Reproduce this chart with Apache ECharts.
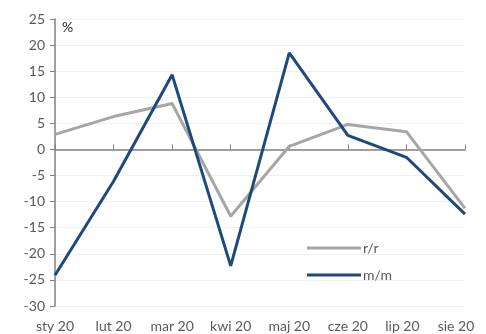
<!DOCTYPE html>
<html><head><meta charset="utf-8">
<script src="https://cdn.jsdelivr.net/npm/echarts@6/dist/echarts.min.js"></script>
<style>html,body{margin:0;padding:0;background:#fff}#c{width:486px;height:334px}</style>
</head><body><div id="c"></div>
<script>
var categories = ['sty 20','lut 20','mar 20','kwi 20','maj 20','cze 20','lip 20','sie 20'];
var rr = [2.9, 6.3, 8.8, -12.8, 0.6, 4.8, 3.4, -11.3];
var mm = [-24.1, -6.1, 14.3, -22.3, 18.5, 2.7, -1.5, -12.4];
var yTicks = {min: -30, max: 25, interval: 5};
var unitLabel = '%';
var seriesNames = ['r/r', 'm/m'];

var font = 'Lato, "Open Sans", sans-serif';
var labelColor = '#595959';
var n = categories.length;
var labelData = categories.map(function (c, i) {
  var pad = i === n - 1 ? [0, 18, 0, 0] : (i === n - 2 ? [0, 8, 0, 0] : 0);
  return {value: c, textStyle: {padding: pad}};
});
var chart = echarts.init(document.getElementById('c'));
chart.setOption({
  animation: false,
  grid: {left: 55, right: 21, top: 19, bottom: 28, containLabel: false},
  legend: {
    orient: 'vertical', left: 302, top: 236, itemWidth: 54, itemHeight: 3, itemGap: 13,
    icon: 'rect',
    textStyle: {color: labelColor, fontSize: 14, fontFamily: font, padding: [0,0,0,-3]},
    data: seriesNames
  },
  graphic: [{type: 'text', left: 62, top: 20, style: {text: unitLabel, fontSize: 14, fontFamily: font, fill: '#222'}}],
  xAxis: [{
    type: 'category', data: labelData, boundaryGap: false, position: 'bottom',
    axisLine: {show: false, onZero: false}, axisTick: {show: false},
    axisLabel: {color: labelColor, fontSize: 14, fontFamily: font, margin: 13}
  }, {
    type: 'category', data: categories, boundaryGap: false,
    axisLine: {show: true, onZero: true, lineStyle: {color: '#808080', width: 1.5}},
    axisTick: {show: true, inside: false, length: 5, lineStyle: {color: '#808080'}},
    axisLabel: {show: false}
  }],
  yAxis: {
    type: 'value', min: yTicks.min, max: yTicks.max, interval: yTicks.interval,
    axisLine: {show: true, lineStyle: {color: '#808080', width: 1.5}},
    axisTick: {show: true, length: 5, lineStyle: {color: '#808080'}},
    axisLabel: {color: labelColor, fontSize: 14, fontFamily: font, margin: 10},
    splitLine: {show: true, lineStyle: {color: '#f0f0f0', width: 1}}
  },
  series: [{
    name: seriesNames[0], type: 'line', data: rr, symbol: 'none', xAxisIndex: 1,
    lineStyle: {color: '#A6A6A6', width: 3}, itemStyle: {color: '#A6A6A6'}
  }, {
    name: seriesNames[1], type: 'line', data: mm, symbol: 'none', xAxisIndex: 1,
    lineStyle: {color: '#1F497D', width: 3}, itemStyle: {color: '#1F497D'}
  }]
});
</script></body></html>
